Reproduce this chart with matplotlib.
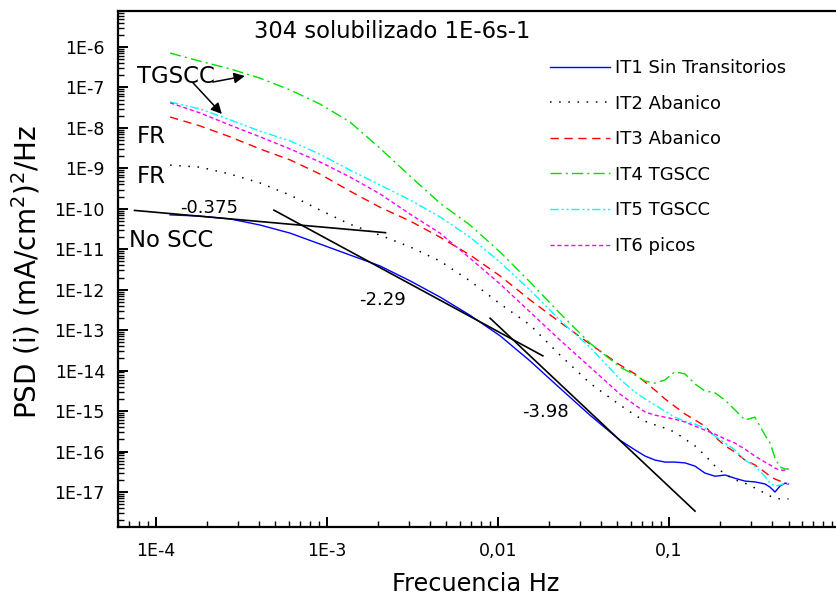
import numpy as np
import matplotlib
matplotlib.use("Agg")
import matplotlib.pyplot as plt
from matplotlib.ticker import FixedLocator, FixedFormatter, LogLocator, NullFormatter

plt.rcParams["font.family"] = ["DejaVu Sans"]
plt.rcParams["mathtext.fontset"] = "dejavusans"

# Frequency grid (Hz) shared by all spectra
freq = [1.21e-4, 1.81e-4, 2.71e-4, 4.06e-4, 6.08e-4, 9.10e-4, 1.36e-3, 2.04e-3,
        3.06e-3, 4.58e-3, 6.86e-3, 1.03e-2, 1.54e-2, 2.30e-2, 3.45e-2, 5.17e-2,
        6.33e-2, 7.24e-2, 8.28e-2, 9.48e-2, 0.108, 0.124, 0.142, 0.162, 0.186,
        0.213, 0.243, 0.278, 0.318, 0.364, 0.390, 0.417, 0.446, 0.477, 0.500]

# log10 of the current PSD, (mA/cm2)^2/Hz
it1_log = [-10.15, -10.18, -10.25, -10.40, -10.60, -10.87, -11.14, -11.41, -11.78, -12.18,
           -12.63, -13.14, -13.76, -14.43, -15.10, -15.72, -15.96, -16.11, -16.21, -16.26,
           -16.26, -16.28, -16.36, -16.53, -16.61, -16.58, -16.66, -16.73, -16.75, -16.80,
           -16.88, -17.00, -16.85, -16.78, -16.80]
it2_log = [-8.92, -8.97, -9.14, -9.36, -9.66, -10.03, -10.38, -10.65, -10.94, -11.29,
           -11.78, -12.35, -12.87, -13.61, -14.31, -14.85, -15.10, -15.25, -15.34, -15.42,
           -15.52, -15.69, -15.86, -16.09, -16.36, -16.56, -16.70, -16.78, -16.90, -17.03,
           -17.10, -17.15, -17.17, -17.17, -17.17]
it3_log = [-7.73, -7.95, -8.22, -8.52, -8.79, -9.14, -9.56, -9.96, -10.30, -10.70,
           -11.14, -11.66, -12.25, -12.80, -13.34, -13.86, -14.08, -14.28, -14.48, -14.70,
           -14.88, -15.07, -15.22, -15.37, -15.64, -15.86, -16.01, -16.21, -16.33, -16.51,
           -16.61, -16.68, -16.73, -16.78, -16.80]
it4_log = [-6.15, -6.35, -6.54, -6.77, -7.06, -7.41, -7.85, -8.50, -9.19, -9.86,
           -10.40, -11.07, -11.81, -12.58, -13.32, -13.91, -14.11, -14.26, -14.31, -14.23,
           -14.03, -14.08, -14.33, -14.50, -14.55, -14.73, -14.97, -15.22, -15.15, -15.59,
           -15.79, -16.16, -16.38, -16.43, -16.43]
it5_log = [-7.36, -7.53, -7.80, -8.08, -8.32, -8.65, -9.04, -9.41, -9.78, -10.20,
           -10.70, -11.32, -12.01, -12.75, -13.42, -14.21, -14.53, -14.70, -14.85, -15.00,
           -15.15, -15.25, -15.32, -15.42, -15.62, -15.79, -15.96, -16.21, -16.36, -16.61,
           -16.78, -16.85, -16.83, -16.78, -16.80]
it6_log = [-7.38, -7.63, -7.93, -8.22, -8.52, -8.84, -9.21, -9.63, -10.13, -10.60,
           -11.22, -11.86, -12.55, -13.24, -13.91, -14.58, -14.85, -15.02, -15.10, -15.15,
           -15.20, -15.27, -15.37, -15.47, -15.57, -15.69, -15.79, -15.94, -16.11, -16.26,
           -16.33, -16.41, -16.46, -16.46, -16.43]

series_labels = ["IT1 Sin Transitorios", "IT2 Abanico", "IT3 Abanico",
                 "IT4 TGSCC", "IT5 TGSCC", "IT6 picos"]

# Power-law fits: slope, anchor point (Hz, PSD) and frequency span
fit_slopes = [-0.375, -2.29, -3.98]
fit_anchor = [(2.9e-4, 5.5e-11), (3.0e-3, 1.46e-12), (3.57e-2, 8.2e-16)]
fit_span = [(7.5e-5, 2.2e-3), (4.9e-4, 1.83e-2), (9.0e-3, 0.142)]

xtick_vals = [1e-4, 1e-3, 1e-2, 1e-1, 1, 10]
xtick_text = ["1E-4", "1E-3", "0,01", "0,1", "1", "10"]
ytick_vals = [10.0 ** e for e in range(-17, -5)]
ytick_text = ["1E%d" % e for e in range(-17, -5)]

W, H = 837, 595
fig = plt.figure(figsize=(W / 100, H / 100), dpi=100)
ax = fig.add_axes([118 / W, 68 / H, 893 / W, 516 / H])
ax.set_xscale("log")
ax.set_yscale("log")
ax.set_xlim(6.0e-5, 10)
ax.set_ylim(1.365e-18, 7.76e-6)

f = np.array(freq)
styles = [
    dict(color="#0000ff", linestyle="-", lw=1.0),
    dict(color="black", linestyle=(0, (1, 5)), lw=1.1),
    dict(color="#ff0000", linestyle=(0, (6, 4)), lw=1.0),
    dict(color="#00e000", linestyle=(0, (8, 3, 1.5, 3)), lw=1.0),
    dict(color="#00ffff", linestyle=(0, (6, 2, 1.5, 2, 1.5, 2)), lw=1.0),
    dict(color="#ff00ff", linestyle=(0, (3, 2)), lw=1.0),
]
for vals, lab, st in zip([it1_log, it2_log, it3_log, it4_log, it5_log, it6_log],
                         series_labels, styles):
    ax.plot(f, 10.0 ** np.array(vals), label=lab, **st)

for s, (fa, pa), (f0, f1) in zip(fit_slopes, fit_anchor, fit_span):
    fx = np.array([f0, f1])
    ax.plot(fx, pa * (fx / fa) ** s, color="black", lw=1.2)

# Axes styling
for side in ["left", "bottom", "top"]:
    ax.spines[side].set_linewidth(1.6)
ax.spines["right"].set_visible(False)
ax.xaxis.set_major_locator(FixedLocator(xtick_vals))
ax.xaxis.set_major_formatter(FixedFormatter(xtick_text))
ax.yaxis.set_major_locator(FixedLocator(ytick_vals))
ax.yaxis.set_major_formatter(FixedFormatter(ytick_text))
ax.xaxis.set_minor_locator(LogLocator(base=10, subs=np.arange(2, 10), numticks=50))
ax.yaxis.set_minor_locator(LogLocator(base=10, subs=np.arange(2, 10), numticks=50))
ax.xaxis.set_minor_formatter(NullFormatter())
ax.yaxis.set_minor_formatter(NullFormatter())
ax.tick_params(which="both", direction="in", top=False, right=False, labelsize=12.5)
ax.tick_params(which="major", length=7.5, width=1.4)
ax.tick_params(which="minor", length=4.5, width=1.0)
ax.tick_params(axis="y", pad=9.4)
ax.tick_params(axis="x", pad=11.0)

ax.set_xlabel("Frecuencia Hz", fontsize=17.3)
ax.xaxis.set_label_coords((392 - 118) / 893, (527 - 572) / 516)
ax.xaxis.label.set_horizontalalignment("left")
ax.set_ylabel("PSD (i) (mA/cm$^2$)$^2$/Hz", fontsize=20)
ax.yaxis.set_label_coords((43 - 118) / 893, 0.495)

fig.text(254 / W, 1 - 38 / H, "304 solubilizado 1E-6s-1", fontsize=16.3,
         ha="left", va="baseline")

leg = ax.legend(loc="upper left", bbox_to_anchor=(550 / W, 1 - 59 / H),
                bbox_transform=fig.transFigure, frameon=False, fontsize=13,
                handlelength=3.3, handletextpad=0.3, labelspacing=0.975,
                borderpad=0, borderaxespad=0)

# Annotations
ax.text(7.74e-5, 1.29e-7, "TGSCC", fontsize=16.4, va="baseline")
ax.text(7.74e-5, 4.24e-9, "FR", fontsize=16.4, va="baseline")
ax.text(7.74e-5, 4.35e-10, "FR", fontsize=16.4, va="baseline")
ax.text(6.95e-5, 1.14e-11, "No SCC", fontsize=16.4, va="baseline")
ax.text(1.38e-4, 7.87e-11, "-0.375", fontsize=13, va="baseline")
ax.text(1.54e-3, 4.19e-13, "-2.29", fontsize=13, va="baseline")
ax.text(1.38e-2, 7.13e-16, "-3.98", fontsize=13, va="baseline")
arrow = dict(arrowstyle="-|>", mutation_scale=16, lw=1.1, color="black",
             shrinkA=0, shrinkB=0)
ax.annotate("", xy=(3.31e-4, 1.92e-7), xytext=(2.15e-4, 1.36e-7), arrowprops=arrow)
ax.annotate("", xy=(2.43e-4, 2.21e-8), xytext=(1.65e-4, 1.29e-7), arrowprops=arrow)

fig.savefig("out.png", dpi=100)
